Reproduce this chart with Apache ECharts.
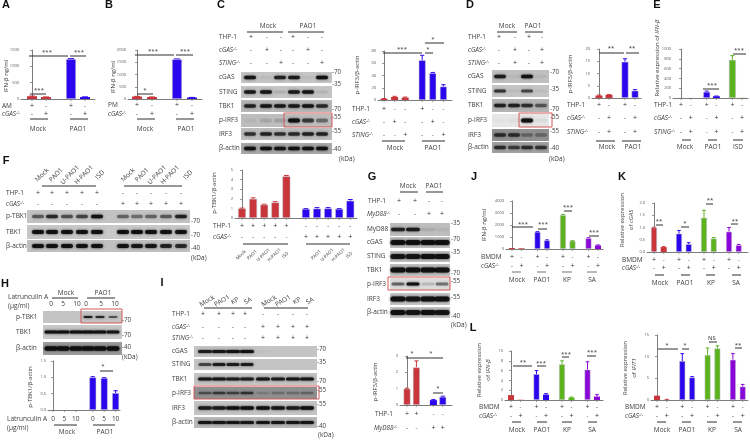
<!DOCTYPE html>
<html><head><meta charset="utf-8">
<style>html,body{margin:0;padding:0;background:#fff}#c{width:750px;height:440px}</style>
<script src="https://cdn.jsdelivr.net/npm/echarts@6/dist/echarts.min.js"></script>
</head><body><div id="c"></div>
<script>
// ---------- chart values ----------
const aValues=[85,60,1225,60],           aErrors=[6,4,12,6];
const bValues=[100,80,1620,60],          bErrors=[8,6,15,6];
const cValues=[2,5,4,65,44,22],          cErrors=[0.3,1,0.8,8,1,3];
const dValues=[1.0,1.3,14.8,3.0],        dErrors=[0.2,0.1,1.2,0.4];
const eValues=[1,1,125,35,780,4],        eErrors=[0,0,15,5,85,0];
const fValues=[1.0,2.0,1.4,1.62,4.35,0.95,0.98,1.0,0.95,1.8];
const fErrors=[0.03,0.1,0.04,0.08,0.08,0.03,0.1,0.08,0.03,0.12];
const gValues=[1.0,2.3,0.3,0.5],         gErrors=[0.03,0.4,0.03,0.04];
const hValues=[0,0,0,1.0,0.98,0.52],     hErrors=[0,0,0,0.02,0.01,0.07];
const jValues=[80,60,1430,720,2820,680,900,300], jErrors=[0,0,20,40,60,20,40,40];
const kValues=[1.0,0.2,0.75,0.32,1.4,0.55,0.83,0.28], kErrors=[0.01,0.02,0.13,0.06,0.3,0.04,0.17,0.03];
const l1Values=[1.0,0.05,5.3,1.1,7.3,0.5,6.2,0.7], l1Errors=[0,0,0.7,0.2,0.7,0.1,1.6,0.4];
const l2Values=[1.0,0.05,9,5.2,10.4,11.9,9.3,3.1], l2Errors=[0,0.1,1.7,0.2,1.6,0.6,1.4,0.5];
// ---------- categories / row labels ----------
const twoGroups=['Mock','PAO1'];
const threeGroups=['Mock','PAO1','ISD'];
const fourGroups=['Mock','PAO1','KP','SA'];
const fStrains=['Mock','PAO1','U-PAO1','H-PAO1','ISD'];
const iStrains=['Mock','PAO1','KP','SA','Mock','PAO1','KP','SA'];
const rowPM=['+','-','+','-'], rowMP=['-','+','-','+'];
const rowPMM=['+','-','-','+','-','-'], rowMPM=['-','+','-','-','+','-'], rowMMP=['-','-','+','-','-','+'];
const rowPMx3=['+','-','+','-','+','-'], rowMPx3=['-','+','-','+','-','+'];
const rowPMx4=['+','-','+','-','+','-','+','-'], rowMPx4=['-','+','-','+','-','+','-','+'];
const rowPPMM=['+','+','-','-'], rowMMPP=['-','-','+','+'];
const rowF1=['+','+','+','+','+','-','-','-','-','-'], rowF2=['-','-','-','-','-','+','+','+','+','+'];
const rowI1=['+','+','+','+','-','-','-','-'], rowI2=['-','-','-','-','+','+','+','+'];
const doses=['0','5','10','0','5','10'];

// ---------- styling ----------
const RED='#c8353a',BLUE='#2a06ee',GREEN='#5cb31e',PURPLE='#8a05d8';
const INK='#3c3c3c',FONT='"Open Sans","DejaVu Sans",sans-serif';
const grids=[],xAxes=[],yAxes=[],series=[],g=[];

function T(text,x,y,o={}){
  const st={text:String(text),fill:o.fill||INK,fontFamily:o.family||FONT,fontSize:o.size||6.5,
    fontWeight:o.weight||'normal',fontStyle:o.italic?'italic':'normal',align:o.align||'center',verticalAlign:'middle'};
  if(o.rich)st.rich=o.rich;
  g.push({type:'text',x,y,rotation:o.rot||0,silent:true,z:20,style:st});
}
const ksRich={i:{fontStyle:'italic',fontSize:6.4,fontFamily:FONT,fill:INK},s:{fontStyle:'italic',fontSize:4,fontFamily:FONT,fill:INK,padding:[0,0,3,0]}};
function KO(name,x,y){T('{i|'+name+'}{s|-/-}',x,y,{align:'left',rich:ksRich});}
function L(x0,x1,y,c,w){g.push({type:'line',silent:true,z:19,shape:{x1:x0,y1:y,x2:x1,y2:y},style:{stroke:c||'#2e2e2e',lineWidth:w||1}});}
function Letter(t,x,y){T(t,x,y,{size:11,weight:'bold',family:'"Liberation Sans",sans-serif',fill:'#111'});}
function sig(x0,x1,y,label,lx,ly){L(x0,x1,y);T(label,lx,ly,{size:6,fill:'#333'});}
function Row(symbols,xs,y){symbols.forEach((s,i)=>T(s,xs[i],y,{size:s==='+'?7:6,fill:'#333'}));}
function YLab(t,x,y,o={}){T(t,x,y,Object.assign({rot:Math.PI/2,size:6},o));}
function Box(x0,x1,y0,y1){g.push({type:'rect',silent:true,z:18,shape:{x:x0,y:y0,width:x1-x0,height:y1-y0},style:{fill:'none',stroke:'#d5565a',lineWidth:1}});}
function Blot(name,x0,x1,y0,y1,bg,lanes,ints,o={}){
  g.push({type:'rect',silent:true,z:10,shape:{x:x0,y:y0,width:x1-x0,height:y1-y0},style:{fill:bg}});
  const th=o.th||3.4,w=o.w||12,cy=(y0+y1)/2+(o.dy||0);
  ints.forEach((v,i)=>{ if(v<=0)return;
    const c='rgba(15,15,15,'+v+')';
    g.push({type:'rect',silent:true,z:11,shape:{x:lanes[i]-w/2,y:cy-th/2,width:w,height:th,r:th/2},
      style:{fill:c,shadowBlur:2.5,shadowColor:c}});
  });
  if(name)T(name,o.lx,cy-(o.dy||0)+(o.ldy||0),{align:'left'});
}
function MW(items,x){items.forEach(([t,y])=>T(t,x,y,{align:'left',size:6.2}));}

function Bars(p){
  const idx=grids.length,extra=p.step/p.pitch-1,pos=[],px=[],cols=[];
  let k=0;p.groups.forEach((n,gi)=>{for(let i=0;i<n;i++){const v=k+gi*extra;pos.push(v);px.push(p.first+p.pitch*v);cols.push(p.colors[gi]);k++;}});
  grids.push({left:p.x0,width:p.x1-p.x0,top:p.top,height:p.bot-p.top,containLabel:false});
  xAxes.push({type:'value',gridIndex:idx,min:(p.x0-p.first)/p.pitch,max:(p.x1-p.first)/p.pitch,
    axisLabel:{show:false},axisTick:{show:false},splitLine:{show:false},axisLine:{show:true,onZero:false,lineStyle:{color:'#7c7c7c',width:1}}});
  yAxes.push({type:'value',gridIndex:idx,min:0,max:p.max,interval:p.interval,splitLine:{show:false},
    axisLine:{show:true,lineStyle:{color:'#7c7c7c',width:1}},axisTick:{show:true,length:2,lineStyle:{color:'#7c7c7c',width:.8}},
    axisLabel:{fontSize:4,color:'#555',margin:2,fontFamily:FONT,formatter:v=>p.dec?v.toFixed(p.dec):String(v)}});
  series.push({type:'bar',xAxisIndex:idx,yAxisIndex:idx,barWidth:p.w,animation:false,silent:true,
    data:p.values.map((v,i)=>({value:[pos[i],v],itemStyle:{color:cols[i],borderColor:'rgba(190,190,205,.7)',borderWidth:v/p.max>0.12?.7:0}}))});
  series.push({type:'custom',xAxisIndex:idx,yAxisIndex:idx,animation:false,silent:true,clip:false,
    data:p.values.map((v,i)=>[pos[i],v,p.errors[i]]),
    encode:{x:0,y:1},
    renderItem(params,api){
      const x=api.value(0),y=api.value(1),e=api.value(2),a=api.coord([x,y]),b=api.coord([x,y+e]),o=api.coord([x,0]);
      const col=cols[params.dataIndex],ch=[];
      ch.push({type:'line',shape:{x1:o[0],y1:o[1],x2:o[0],y2:o[1]+2},style:{stroke:'#7c7c7c',lineWidth:.8}});
      if(e>0){
        ch.push({type:'line',shape:{x1:a[0],y1:a[1],x2:b[0],y2:b[1]},style:{stroke:col,lineWidth:1}});
        ch.push({type:'line',shape:{x1:b[0]-p.w*.3,y1:b[1],x2:b[0]+p.w*.3,y2:b[1]},style:{stroke:col,lineWidth:1}});
      }
      return {type:'group',children:ch};
    }});
  return px;
}

// ---------- A ----------
Letter('A',6,5);
let xs=Bars({x0:21,x1:95,top:50,bot:99,first:32,pitch:14,step:25,groups:[2,2],colors:[RED,BLUE],values:aValues,errors:aErrors,max:1500,interval:500,w:10});
YLab('IFN-β ng/ml',6,76);
T('AM',2,106,{align:'left'});KO('cGAS',2,114);Row(rowPM,xs,106);Row(rowMP,xs,114);
L(30,48,119);L(70,88,119);T(twoGroups[0],38,129);T(twoGroups[1],78,129);
sig(29,68,56,'***',47,52);sig(70,86,56,'***',79,52);sig(30,46,94,'***',39,90);
// ---------- B ----------
Letter('B',109,5);
xs=Bars({x0:128,x1:202,top:50,bot:99,first:137,pitch:15,step:25,groups:[2,2],colors:[RED,BLUE],values:bValues,errors:bErrors,max:2000,interval:500,w:10});
YLab('IFN-β ng/ml',113,77);
T('PM',108,105,{align:'left'});KO('cGAS',108,114);Row(rowPM,xs,105);Row(rowMP,xs,114);
L(137,155,119);L(176,194,119);T(twoGroups[0],145,129);T(twoGroups[1],186,129);
sig(135,174,55,'***',153,51);sig(176,193,55,'***',185,51);sig(137,153,94,'*',145,90);
// ---------- C ----------
Letter('C',221,5);
T('Mock',268,26);T('PAO1',308,26);L(247,283,32);L(288,324,32);
const cCols=[251,267,281,293,308,322];
T('THP-1',219,37,{align:'left'});KO('cGAS',219,50);KO('STING',219,63);
Row(rowPMM,cCols,37);Row(rowMPM,cCols,50);Row(rowMMP,cCols,63);
const cLanes=[250,266,280,294,308,322];
Blot('cGAS',241,332,72,83,'#c4c4c4',cLanes,[.9,.05,.8,.85,.05,.95],{lx:219});
Blot('STING',241,332,86,98,'#c4c4c4',cLanes,[.85,.9,.1,.85,.9,.08],{lx:219});
Blot('TBK1',241,332,100,112,'#b6b6b6',cLanes,[.8,.9,.85,.85,.9,.75],{lx:219});
Blot('p-IRF3',241,332,114,127,'#bdbdbd',cLanes,[.05,.12,.15,.95,.65,.4],{lx:219,th:3.8});
Blot('IRF3',241,332,128,140,'#bcbcbc',cLanes,[.7,.8,.7,.75,.8,.8],{lx:219});
Blot('β-actin',241,332,143,154,'#a8a8a8',cLanes,[.95,.95,.9,.95,.95,.95],{lx:219});
Box(284,332,113,127);
MW([['-70',72],['-35',84],['-70',109],['-55',117],['-55',131],['-40',149]],332);T('(kDa)',339,159,{align:'left'});
xs=Bars({x0:378,x1:452,top:51,bot:100,first:384,pitch:10.6,step:17,groups:[3,3],colors:[RED,BLUE],values:cValues,errors:cErrors,max:80,interval:20,w:7});
YLab('p-IRF3/β-actin',357,75);
T('THP-1',352,109,{align:'left'});KO('cGAS',352,122);KO('STING',352,135);
Row(rowPMM,xs,109);Row(rowMPM,xs,122);Row(rowMMP,xs,135);
L(382,405,141);L(422,445,141);T('Mock',395,148);T('PAO1',433,148);
sig(425,444,43,'*',433,39);sig(383,422,53,'***',402,49);sig(425,433,53,'*',428,49);
// ---------- D ----------
Letter('D',470,5);
T('Mock',507,26);T('PAO1',533,26);L(497,517,32);L(525,543,32);
const dCols=[499,515,529,542],dLanes=[500,514,527,541];
T('THP-1',468,37,{align:'left'});KO('cGAS',468,50);KO('STING',468,63);
Row(rowPM,dCols,37);Row(rowMP,dCols,50);Row(rowMP,dCols,63);
Blot('cGAS',492,549,70,83,'#bfbfbf',dLanes,[.85,.05,.95,.05],{lx:468});
Blot('STING',492,549,85,97,'#c4c4c4',dLanes,[.7,.05,.6,.05],{lx:468,th:3});
Blot('TBK1',492,549,99,112,'#b4b4b4',dLanes,[.8,.8,.7,.5],{lx:468});
Blot('p-IRF3',492,549,114,127,'#e6e6e6',dLanes,[.02,.03,.95,.05],{lx:468,th:4});
Blot('IRF3',492,549,129,141,'#8f8f8f',dLanes,[.7,.7,.3,.3],{lx:468});
Blot('β-actin',492,549,142,153,'#a0a0a0',dLanes,[.7,.6,.7,.65],{lx:468});
Box(519,552,113,127);
MW([['-70',72],['-35',89],['-70',109],['-55',117],['-55',131],['-40',148]],550);T('(kDa)',549,159,{align:'left'});
xs=Bars({x0:592,x1:641,top:49,bot:98,first:599,pitch:10,step:16,groups:[2,2],colors:[RED,BLUE],values:dValues,errors:dErrors,max:20,interval:5,w:7});
YLab('p-IRF3/β-actin',570,74);
T('THP-1',567,105,{align:'left'});KO('cGAS',567,118);KO('STING',567,132);
Row(rowPM,xs,105);Row(rowMP,xs,118);Row(rowMP,xs,132);
L(596,615,141);L(622,641,141);T('Mock',607,147);T('PAO1',633,147);
sig(599,624,53,'**',611,48);sig(626,639,53,'**',632,48);
// ---------- E ----------
Letter('E',657,5);
xs=Bars({x0:673,x1:748,top:49,bot:98,first:681,pitch:9.7,step:16,groups:[2,2,2],colors:[RED,BLUE,GREEN],values:eValues,errors:eErrors,max:1000,interval:200,w:7});
T('Relative expression of {i|IFN-β}',657,58,{rot:Math.PI/2,size:6,rich:{i:{fontStyle:'italic',fontSize:6,fontFamily:FONT,fill:INK}}});
T('THP-1',654,105,{align:'left'});KO('cGAS',654,118);KO('STING',654,132);
Row(rowPMx3,xs,105);Row(rowMPx3,xs,118);Row(rowMPx3,xs,132);
L(682,691,140);L(708,717,140);L(733,743,140);
threeGroups.forEach((t,i)=>T(t,[685,713,738][i],147));
sig(703,719,89,'***',712,85);sig(733,746,54,'***',739,50);
// ---------- F ----------
Letter('F',6,161);
const fCols=[38,52,67,82,97,123,137,151,166,181];
[42,56,70,84,100].forEach((x,i)=>T(fStrains[i],x,175,{rot:Math.PI/4}));
[128,142,157,170,188].forEach((x,i)=>T(fStrains[i],x,175,{rot:Math.PI/4}));
L(42,96,186);L(124,182,186);
T('THP-1',6,193,{align:'left'});KO('cGAS',6,204);Row(rowF1,fCols,193);Row(rowF2,fCols,204);
Blot('p-TBK1',27,190,210,223,'#c2c2c2',fCols,[.5,.75,.55,.6,.95,.45,.4,.45,.5,.8],{lx:6});
Blot('TBK1',27,190,225,239,'#c8c8c8',fCols,[.95,.95,.95,.95,.95,.95,.95,.95,.95,.95],{lx:6,th:4});
Blot('β-actin',27,190,240,252,'#c0c0c0',fCols,[.95,.95,.95,.95,.95,.95,.9,.9,.8,.75],{lx:6,th:4.2});
MW([['-70',221],['-70',235],['-40',248]],191);T('(kDa)',191,258,{align:'left'});
xs=Bars({x0:235,x1:357,top:170,bot:218,first:242,pitch:11.1,step:19.5,groups:[5,5],colors:[RED,BLUE],values:fValues,errors:fErrors,max:5,interval:1,w:8});
YLab('p-TBK1/β-actin',214,193);
T('THP-1',213,226,{align:'left'});KO('cGAS',213,237);Row(rowF1,xs,226);Row(rowF2,xs,237);
L(243,288,244);L(306,350,244);
[0,1,2,3,4].forEach(i=>T(fStrains[i],xs[i]-1,255,{rot:Math.PI/4,size:4.6}));
[1,2,3,4].forEach(i=>T(fStrains[i],xs[i+5]-1,255,{rot:Math.PI/4,size:4.6}));
// ---------- G ----------
Letter('G',372,177);
T('Mock',408,186);T('PAO1',434,186);L(400,418,192);L(426,443,192);
const gCols=[399,415,429,442],gLanes=[398,413,428,442];
T('THP-1',368,201,{align:'left'});KO('MyD88',367,214);Row(rowPPMM,gCols,201);Row(rowMMPP,gCols,214);
Blot('MyD88',390,450,223,236,'#bdbdbd',gLanes,[.8,.85,.1,.05],{lx:367,w:14});
Blot('cGAS',390,450,237,248,'#c2c2c2',gLanes,[.95,.95,.95,.95],{lx:367,w:15,th:5});
Blot('STING',390,450,251,262,'#c2c2c2',gLanes,[.9,.9,.95,.95],{lx:367,w:15,th:5});
Blot('TBK1',390,450,264,276,'#c2c2c2',gLanes,[.95,.95,.95,.95],{lx:367,w:15,th:5});
Blot('p-IRF3',390,450,278,290,'#dcdcdc',gLanes,[.5,.95,.15,.45],{lx:367,w:13,th:3});
Blot('IRF3',390,450,293,305,'#c6c6c6',gLanes,[.95,.9,.95,.95],{lx:367,w:15,th:5});
Blot('β-actin',390,450,307,318,'#c6c6c6',gLanes,[.95,.9,.95,.9],{lx:367,w:15,th:5});
Box(388,450,277,290);
MW([['-35',223],['-70',239],['-35',252],['-70',273],['-55',281],['-55',297],['-40',316]],451);T('(kDa)',451,325,{align:'left'});
xs=Bars({x0:400,x1:452,top:356,bot:405,first:407,pitch:9.4,step:17,groups:[2,2],colors:[RED,BLUE],values:gValues,errors:gErrors,max:3,interval:1,w:7});
YLab('p-IRF3/β-actin',375,382);
T('THP-1',375,414,{align:'left'});KO('MyD88',374,428);Row(rowPPMM,xs,414);Row(rowMMPP,xs,428);
sig(406,443,358,'*',412,353);T('*',431,353,{size:6});sig(433,443,393,'*',438,388);
// ---------- H ----------
Letter('H',5,284);
T('Latrunculin A',8,297,{align:'left'});T('(μg/ml)',8,306,{align:'left'});
T('Mock',66,293);T('PAO1',103,293);L(52,78,298);L(87,115,298);
const hCols=[51,63,77,86,101,115],hLanes=[51,63,76,88,100,113];
doses.forEach((d,i)=>T(d,hCols[i],304));
Blot('p-TBK1',43,122,311,323,'#c4c4c4',hLanes,[0,0,0,.85,.8,.55],{lx:16,th:2,w:9});
Blot('TBK1',43,122,325,339,'#c8c8c8',hLanes,[.95,.95,.95,.95,.95,.9],{lx:16,th:3,w:13});
Blot('β-actin',43,122,342,355,'#9c9c9c',hLanes,[.95,.95,.95,.95,.95,.95],{lx:16,th:4.4,w:13});
Box(81,122,309,323);
MW([['-70',320],['-70',335],['-40',347]],122);T('(kDa)',122,357,{align:'left'});
xs=Bars({x0:48,x1:120,top:361,bot:410,first:53,pitch:11.4,step:17,groups:[3,3],colors:[BLUE,BLUE],values:hValues,errors:hErrors,max:1.5,interval:0.5,w:7,dec:1});
YLab('p-TBK1/β-actin',30,387);
T('Latrunculin A',7,419,{align:'left'});T('(μg/ml)',7,428,{align:'left'});
doses.forEach((d,i)=>T(d,xs[i],419));
L(54,77,425);L(93,115,425);T('Mock',67,432);T('PAO1',105,432);
sig(100,113,371,'*',103,366);
// ---------- I ----------
Letter('I',162,283);
[207,222,235,248,269,283,297,310].forEach((x,i)=>T(iStrains[i],x,301,{rot:Math.PI/6}));
L(204,252,308);L(264,308,308);
const iCols=[203,219,233,245,263,278,293,307],iLanes=[205,219,233,247,263,278,293,307];
T('THP-1',172,314,{align:'left'});KO('cGAS',172,327);KO('STING',172,338);
Row(rowI1,iCols,314);Row(rowI2,iCols,327);Row(rowI2,iCols,338);
Blot('cGAS',194,317,346,357,'#c4c4c4',iLanes,[.85,.9,.95,.95,.02,0,0,0],{lx:172,w:14,th:3});
Blot('STING',194,317,359,370,'#c4c4c4',iLanes,[.6,.85,.85,.85,0,0,0,0],{lx:172,w:13,th:3});
Blot('TBK1',194,317,373,385,'#c4c4c4',iLanes,[.9,.9,.85,.85,.9,.85,.9,.9],{lx:172,w:14,th:3.2});
Blot('p-IRF3',194,317,387,399,'#8f8f8f',iLanes,[.45,.6,.55,.65,.15,.25,.25,.3],{lx:172,w:13,th:2.6});
Blot('IRF3',194,317,401,415,'#c4c4c4',iLanes,[.85,.85,.95,.95,.95,.9,.85,.95],{lx:172,w:14,th:3.6});
Blot('β-actin',194,317,417,428,'#bababa',iLanes,[.9,.9,.9,.9,.9,.9,.9,.9],{lx:172,w:14,th:3});
Box(194,319,386,399);
MW([['-70',349],['-35',362],['-70',381],['-55',390],['-55',404],['-40',426]],317);T('(kDa)',318,435,{align:'left'});
// ---------- J ----------
Letter('J',474,177);
xs=Bars({x0:506,x1:603,top:201,bot:249,first:512,pitch:9.5,step:16,groups:[2,2,2,2],colors:[RED,BLUE,GREEN,PURPLE],values:jValues,errors:jErrors,max:4000,interval:1000,w:6});
YLab('IFN-β ng/ml',484,225);
T('BMDM',481,257,{align:'left'});KO('cGAS',481,266);Row(rowPMx4,xs,257);Row(rowMPx4,xs,266);
[[512,521],[537,546],[562,572],[587,597]].forEach(([a,b])=>L(a,b,272,'#8a8a8a',1.2));
[517,542,567,592].forEach((x,i)=>T(fourGroups[i],x,280));
sig(512,533,227,'***',523,224);sig(538,547,229,'***',543,224);sig(564,572,211,'***',568,207);sig(589,599,236,'***',594,232);
// ---------- K ----------
Letter('K',622,177);
xs=Bars({x0:647,x1:748,top:203,bot:252,first:654,pitch:9.7,step:15.3,groups:[2,2,2,2],colors:[RED,BLUE,GREEN,PURPLE],values:kValues,errors:kErrors,max:2,interval:0.5,w:6,dec:1});
YLab('Relative expression',622,220);T('of {i|cGAS}',631,220,{rot:Math.PI/2,size:6,rich:{i:{fontStyle:'italic',fontSize:6,fontFamily:FONT,fill:INK}}});
T('BMDM',622,260,{align:'left'});KO('cGAS',622,268);Row(rowPMx4,xs,260);Row(rowMPx4,xs,268);
[[655,664],[681,690],[706,715],[732,741]].forEach(([a,b])=>L(a,b,275));
[660,685,711,736].forEach((x,i)=>T(fourGroups[i],x,283));
sig(656,663,225,'**',659,221);sig(681,689,227,'*',685,223);sig(706,713,204,'**',710,200);sig(731,738,224,'**',735,221);
// ---------- L ----------
Letter('L',473,328);
xs=Bars({x0:505,x1:603,top:351,bot:400,first:511,pitch:9.5,step:16,groups:[2,2,2,2],colors:[RED,BLUE,GREEN,PURPLE],values:l1Values,errors:l1Errors,max:10,interval:2,w:6});
YLab('Relative expression',479,370);T('of {i|IFN-β}',488,370,{rot:Math.PI/2,size:6,rich:{i:{fontStyle:'italic',fontSize:6,fontFamily:FONT,fill:INK}}});
T('BMDM',479,407,{align:'left'});KO('cGAS',479,416);Row(rowPMx4,xs,407);Row(rowMPx4,xs,416);
[[512,521],[537,547],[562,572],[588,597]].forEach(([a,b])=>L(a,b,422));
[517,542,567,592].forEach((x,i)=>T(fourGroups[i],x,430));
sig(513,532,366,'**',523,362);sig(537,546,366,'***',541,363);sig(562,569,357,'***',566,354);sig(587,596,356,'***',592,352);
xs=Bars({x0:651,x1:748,top:335,bot:400,first:657,pitch:9.8,step:15.5,groups:[2,2,2,2],colors:[RED,BLUE,GREEN,PURPLE],values:l2Values,errors:l2Errors,max:15,interval:5,w:6});
YLab('Relative expression',625,368);T('of {i|IFIT1}',634,368,{rot:Math.PI/2,size:6,rich:{i:{fontStyle:'italic',fontSize:6,fontFamily:FONT,fill:INK}}});
T('BMDM',625,407,{align:'left'});KO('cGAS',625,416);Row(rowPMx4,xs,407);Row(rowMPx4,xs,416);
[[657,666],[682,691],[707,717],[733,742]].forEach(([a,b])=>L(a,b,422));
[662,687,712,738].forEach((x,i)=>T(fourGroups[i],x,430));
sig(658,678,349,'*',667,345);sig(682,689,349,'*',685,345);sig(709,717,342,'NS',712,338);sig(735,742,348,'**',738,345);

const chart=echarts.init(document.getElementById('c'),null,{renderer:'canvas',width:750,height:440});
chart.setOption({animation:false,backgroundColor:'#fff',grid:grids,xAxis:xAxes,yAxis:yAxes,series,graphic:{elements:g}});
</script></body></html>
